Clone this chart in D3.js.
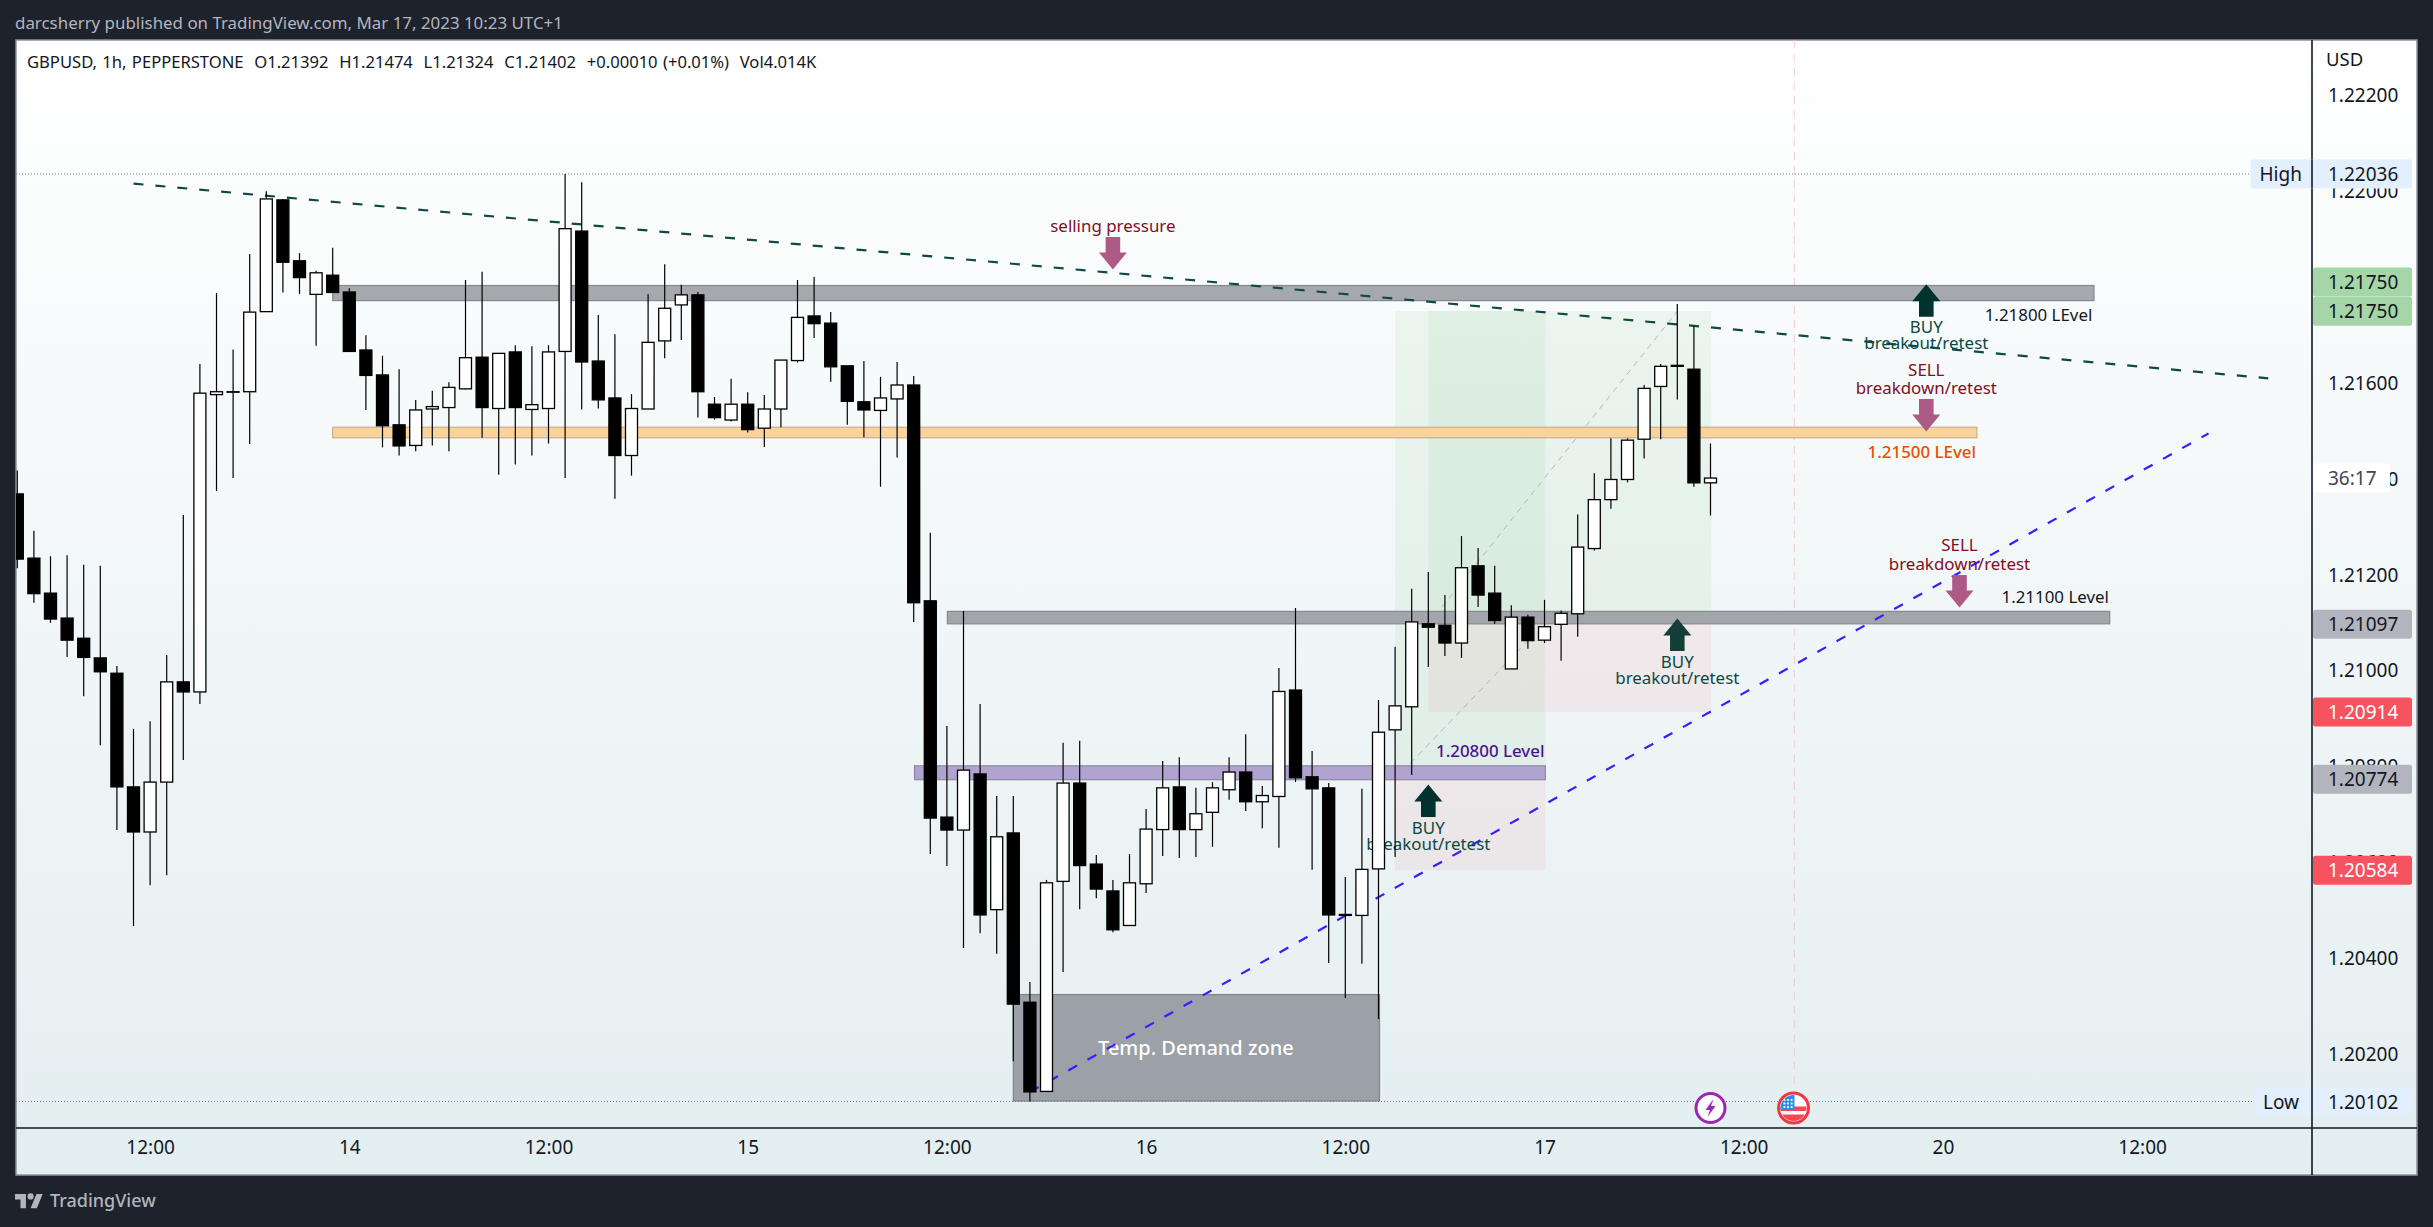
<!DOCTYPE html>
<html><head><meta charset="utf-8">
<script src="https://cdn.jsdelivr.net/npm/d3@7/dist/d3.min.js"></script>
<style>html,body{margin:0;padding:0;background:#1e222d;overflow:hidden}svg{display:block}text{font-family:"Noto Sans",sans-serif}</style>
</head><body><svg id="c" width="2433" height="1227"></svg>
<script>
const opens=[1.21369,1.21235,1.21162,1.21110,1.21068,1.21027,1.20995,1.20758,1.20664,1.20768,1.20977,1.20956,1.21576,1.21582,1.21582,1.21749,1.21982,1.21855,1.21785,1.21825,1.21790,1.21669,1.21617,1.21513,1.21470,1.21546,1.21549,1.21588,1.21654,1.21547,1.21665,1.21545,1.21547,1.21666,1.21917,1.21646,1.21569,1.21449,1.21546,1.21688,1.21763,1.21784,1.21556,1.21523,1.21556,1.21506,1.21546,1.21647,1.21740,1.21725,1.21636,1.21561,1.21543,1.21567,1.21596,1.21146,1.20695,1.20668,1.20785,1.20502,1.20662,1.20309,1.20123,1.20561,1.20766,1.20597,1.20541,1.20469,1.20556,1.20669,1.20758,1.20669,1.20705,1.20752,1.20789,1.20727,1.20738,1.20960,1.20779,1.20756,1.20492,1.20490,1.20587,1.20877,1.20925,1.21098,1.21095,1.21058,1.21219,1.21162,1.21004,1.21112,1.21064,1.21097,1.21119,1.21255,1.21357,1.21399,1.21483,1.21593,1.21637,1.21629,1.21392];
const highs=[1.21418,1.21292,1.21239,1.21241,1.21221,1.21219,1.21010,1.20879,1.20895,1.21033,1.21325,1.21640,1.21788,1.21670,1.21869,1.22000,1.21984,1.21871,1.21834,1.21882,1.21798,1.21700,1.21657,1.21629,1.21565,1.21584,1.21602,1.21815,1.21832,1.21662,1.21679,1.21677,1.21679,1.22036,1.22019,1.21742,1.21702,1.21577,1.21785,1.21848,1.21805,1.21790,1.21571,1.21609,1.21581,1.21575,1.21648,1.21815,1.21821,1.21748,1.21636,1.21646,1.21613,1.21644,1.21615,1.21288,1.20885,1.21125,1.20931,1.20739,1.20739,1.20351,1.20564,1.20850,1.20854,1.20616,1.20564,1.20618,1.20712,1.20812,1.20820,1.20756,1.20768,1.20820,1.20868,1.20760,1.21006,1.21131,1.20833,1.20766,1.20570,1.20754,1.20939,1.21050,1.21171,1.21206,1.21158,1.21281,1.21256,1.21219,1.21137,1.21117,1.21148,1.21126,1.21326,1.21412,1.21485,1.21485,1.21596,1.21640,1.21765,1.21719,1.21474];
const lows=[1.21214,1.21142,1.21100,1.21029,1.20947,1.20845,1.20668,1.20468,1.20553,1.20574,1.20814,1.20931,1.21375,1.21402,1.21473,1.21749,1.21789,1.21786,1.21678,1.21789,1.21666,1.21544,1.21466,1.21449,1.21458,1.21470,1.21458,1.21587,1.21486,1.21409,1.21430,1.21449,1.21474,1.21402,1.21545,1.21547,1.21359,1.21407,1.21546,1.21652,1.21690,1.21528,1.21524,1.21520,1.21497,1.21467,1.21508,1.21643,1.21694,1.21603,1.21513,1.21487,1.21384,1.21445,1.21102,1.20618,1.20593,1.20422,1.20453,1.20410,1.20186,1.20102,1.20123,1.20372,1.20503,1.20526,1.20455,1.20469,1.20537,1.20614,1.20610,1.20612,1.20633,1.20731,1.20708,1.20672,1.20631,1.20768,1.20585,1.20391,1.20318,1.20389,1.20274,1.20612,1.20783,1.21008,1.21031,1.21027,1.21133,1.21098,1.21004,1.21046,1.21058,1.21021,1.21071,1.21251,1.21338,1.21393,1.21443,1.21483,1.21566,1.21384,1.21324];
const closes=[1.21233,1.21161,1.21108,1.21064,1.21028,1.20998,1.20758,1.20664,1.20768,1.20977,1.20956,1.21579,1.21582,1.21582,1.21748,1.21984,1.21852,1.21820,1.21830,1.21789,1.21666,1.21616,1.21511,1.21469,1.21544,1.21551,1.21591,1.21653,1.21549,1.21662,1.21549,1.21555,1.21665,1.21922,1.21644,1.21565,1.21449,1.21547,1.21685,1.21756,1.21784,1.21582,1.21528,1.21556,1.21503,1.21546,1.21648,1.21737,1.21724,1.21634,1.21562,1.21544,1.21569,1.21596,1.21142,1.20693,1.20668,1.20793,1.20491,1.20654,1.20305,1.20122,1.20558,1.20766,1.20594,1.20545,1.20460,1.20558,1.20670,1.20756,1.20669,1.20702,1.20756,1.20789,1.20727,1.20740,1.20957,1.20777,1.20754,1.20491,1.20490,1.20586,1.20872,1.20927,1.21102,1.21091,1.21058,1.21215,1.21158,1.21105,1.21112,1.21063,1.21092,1.21120,1.21258,1.21357,1.21399,1.21481,1.21589,1.21635,1.21635,1.21392,1.21402];

const priceTicks=[1.222,1.22,1.218,1.216,1.214,1.212,1.21,1.208,1.206,1.204,1.202];
const timeTicks=[8,20,32,44,56,68,80,92,104,116,128];
const timeLabels=["12:00","14","12:00","15","12:00","16","12:00","17","12:00","20","12:00"];

// horizontal zones [from bar, to bar, upper price, lower price, fill, edge]
const zones=[
 [19,125.1,1.218035,1.21772,"#a5a8ad","#85888d"],
 [19,118.05,1.21508,1.21486,"#f9d29c","#c8b08c"],
 [56.03,126.05,1.21124,1.21098,"#a2a6ab","#85898e"],
 [54.05,92.05,1.20802,1.20773,"#b1a3cf","#8f87a9"],
 [60,82.06,1.20325,1.20103,"#9ba1a7","#7f8489"]
];
// position tools [from bar, to bar, target, entry, stop, line end bar, line end price]
const tools=[
 [83,92.05,1.2175,1.20774,1.20584,91,1.21063],
 [85,102.05,1.2175,1.21097,1.20914,100,1.2175]
];
// trend lines [bar0, price0, bar1, price1, colour, dash]
const trends=[
 [7,1.22016,135.6,1.2161,"#0c4a44","10 12"],
 [61,1.20122,132,1.21495,"#3a1cff","10 12"]
];
// arrows [bar, tip price, direction, colour]
const arrows=[
 [66,1.21837,"down","#ad5a87"],
 [115,1.21806,"up","#00332e"],
 [115,1.21499,"down","#ad5a87"],
 [117,1.21132,"down","#ad5a87"],
 [100,1.21109,"up","#143e38"],
 [85,1.20763,"up","#00332e"]
];
// notes [text, bar, price, anchor, colour, weight]
const notes=[
 ["selling pressure",66,1.21927,"middle","#80101f",400],
 ["BUY",115,1.21717,"middle","#0c4a44",400],
 ["breakout/retest",115,1.21684,"middle","#0c4a44",400],
 ["SELL",115,1.21627,"middle","#80101f",400],
 ["breakdown/retest",115,1.21590,"middle","#80101f",400],
 ["1.21800 LEvel",125,1.21742,"end","#131722",400],
 ["1.21500 LEvel",118,1.21457,"end","#e65100",500],
 ["SELL",117,1.212615,"middle","#80101f",400],
 ["breakdown/retest",117,1.21223,"middle","#80101f",400],
 ["1.21100 Level",126,1.21153,"end","#131722",400],
 ["BUY",100,1.21019,"middle","#0c4a44",400],
 ["breakout/retest",100,1.20985,"middle","#0c4a44",400],
 ["BUY",85,1.20673,"middle","#0c4a44",400],
 ["breakout/retest",85,1.20639,"middle","#0c4a44",400],
 ["1.20800 Level",92,1.20832,"end","#4a148c",500]
];
const priceLabels=[
 ["1.21750",1.21811,"#a5d6a7","#131722"],
 ["1.21750",1.2175,"#a5d6a7","#131722"],
 ["1.21097",1.21097,"#b2b5be","#131722"],
 ["1.20914",1.20914,"#f7525f","#ffffff"],
 ["1.20774",1.20774,"#b2b5be","#131722"],
 ["1.20584",1.20584,"#f7525f","#ffffff"]
];
const highLow=[["High",1.22036,"1.22036"],["Low",1.20102,"1.20102"]];
const lastPrice=1.21402;
const events=[102,107];

const L=16,R=2417,T=40,B=1175,AX=2312,AY=1128;
const x=d3.scaleLinear().domain([0,1]).range([17.3,33.9]);
const y=d3.scaleLinear().domain([1.20102,1.22036]).range([1101.5,174]);
const FS=19;
const svg=d3.select("#c");
const defs=svg.append("defs");
const g=defs.append("linearGradient").attr("id","bg").attr("x1",0).attr("x2",0).attr("y1",0).attr("y2",1);
g.append("stop").attr("offset",0).attr("stop-color","#ffffff");
g.append("stop").attr("offset",1).attr("stop-color","#e3eef0");
defs.append("clipPath").attr("id","plot").append("rect").attr("x",L).attr("y",T).attr("width",AX-L).attr("height",AY-T);
svg.append("rect").attr("x",L).attr("y",T).attr("width",R-L).attr("height",B-T).attr("fill","url(#bg)").attr("stroke","#8f939c").attr("stroke-width",1.5);

svg.append("text").attr("x",15).attr("y",29).attr("font-size",16.9).attr("fill","#b2b5be").text("darcsherry published on TradingView.com, Mar 17, 2023 10:23 UTC+1");
const plot=svg.append("g").attr("clip-path","url(#plot)");

plot.append("line").attr("x1",x(107.05)).attr("x2",x(107.05)).attr("y1",T).attr("y2",1092).attr("stroke","#f6c9ce").attr("stroke-width",1).attr("stroke-dasharray","8 6");
highLow.forEach(d=>{plot.append("line").attr("x1",L).attr("x2",d[0]=="High"?2251:2254).attr("y1",y(d[1])).attr("y2",y(d[1])).attr("stroke","#787b86").attr("stroke-width",1).attr("stroke-dasharray","1 2");});

tools.forEach(t=>{
 plot.append("rect").attr("x",x(t[0])).attr("width",x(t[1])-x(t[0])).attr("y",y(t[2])).attr("height",y(t[3])-y(t[2])).attr("fill","rgba(76,175,80,0.075)");
 plot.append("rect").attr("x",x(t[0])).attr("width",x(t[1])-x(t[0])).attr("y",y(t[3])).attr("height",y(t[4])-y(t[3])).attr("fill","rgba(242,54,69,0.065)");
 plot.append("line").attr("x1",x(t[0])).attr("y1",y(t[3])).attr("x2",x(t[5])).attr("y2",y(t[6])).attr("stroke","#b4b8bd").attr("stroke-width",1).attr("stroke-dasharray","6 5");
});
zones.forEach(z=>{plot.append("rect").attr("x",x(z[0])).attr("width",x(z[1])-x(z[0])).attr("y",y(z[2])).attr("height",y(z[3])-y(z[2])).attr("fill",z[4]).attr("stroke",z[5]).attr("stroke-width",1.2);});
plot.append("text").attr("x",x(71)).attr("y",y(1.20214)+7).attr("text-anchor","middle").attr("font-size",20).attr("font-weight",500).attr("fill","#fff").text("Temp. Demand zone");
trends.forEach(t=>{plot.append("line").attr("x1",x(t[0])).attr("y1",y(t[1])).attr("x2",x(t[2])).attr("y2",y(t[3])).attr("stroke",t[4]).attr("stroke-width",2.2).attr("stroke-dasharray",t[5]);});
const arrowPath=(up)=>{const s=up?1:-1;return `M0,0L14,${s*17}L7.3,${s*17}L7.3,${s*32.5}L-7.3,${s*32.5}L-7.3,${s*17}L-14,${s*17}Z`;};
arrows.forEach(a=>{plot.append("path").attr("transform",`translate(${x(a[0])},${y(a[1])})`).attr("d",arrowPath(a[2]=="up")).attr("fill",a[3]);});
notes.forEach(n=>{plot.append("text").attr("x",x(n[1])).attr("y",y(n[2])+6).attr("text-anchor",n[3]).attr("font-size",16.9).attr("font-weight",n[5]).attr("fill",n[4]).text(n[0]);});

const bars=d3.range(opens.length).map(i=>({i,o:opens[i],h:highs[i],l:lows[i],c:closes[i]}));
const cg=plot.append("g");
cg.selectAll("line").data(bars).join("line").attr("x1",d=>x(d.i)).attr("x2",d=>x(d.i)).attr("y1",d=>y(d.h)).attr("y2",d=>y(d.l)).attr("stroke","#000").attr("stroke-width",1.2);
cg.selectAll("rect").data(bars).join("rect").attr("x",d=>x(d.i)-6).attr("width",12).attr("y",d=>y(Math.max(d.o,d.c))).attr("height",d=>Math.max(0.5,Math.abs(y(d.o)-y(d.c)))).attr("fill",d=>d.c>=d.o?"#fff":"#000").attr("stroke","#000").attr("stroke-width",1.3);

svg.append("text").attr("x",27).attr("y",68).attr("font-size",16.6).attr("fill","#131722").attr("word-spacing",1).style("white-space","pre").text("GBPUSD, 1h, PEPPERSTONE  O1.21392  H1.21474  L1.21324  C1.21402  +0.00010 (+0.01%)  Vol4.014K");

const yAxis=d3.axisRight(y).tickValues(priceTicks).tickFormat(d3.format(".5f")).tickSize(0).tickPadding(16);
const ya=svg.append("g").attr("transform",`translate(${AX},0)`).call(yAxis);
ya.select(".domain").remove();
ya.selectAll("text").attr("font-size",FS).attr("fill","#131722").style("font-family",'"Noto Sans",sans-serif');
const xAxis=d3.axisBottom(x).tickValues(timeTicks).tickFormat((d,i)=>timeLabels[i]).tickSize(0).tickPadding(13);
const xa=svg.append("g").attr("transform",`translate(0,${AY})`).call(xAxis);
xa.select(".domain").remove();
xa.selectAll("text").attr("font-size",FS).attr("fill","#131722").style("font-family",'"Noto Sans",sans-serif');
svg.append("line").attr("x1",L).attr("x2",R).attr("y1",AY).attr("y2",AY).attr("stroke","#131722").attr("stroke-width",1.6);
svg.append("line").attr("x1",AX).attr("x2",AX).attr("y1",T).attr("y2",B).attr("stroke","#131722").attr("stroke-width",1.6);
svg.append("text").attr("x",2326).attr("y",66).attr("font-size",FS-0.5).attr("fill","#131722").text("USD");

const box=(p,fill,txt,col)=>{
 const cy=y(p);
 svg.append("rect").attr("x",AX+1).attr("y",cy-14.5).attr("width",99).attr("height",29).attr("rx",2.5).attr("fill",fill);
 svg.append("text").attr("x",2328).attr("y",cy+7).attr("font-size",FS).attr("fill",col).text(txt);
};
highLow.forEach(d=>{
 const cy=y(d[1]), lx=d[0]=="High"?2250.5:2254;
 svg.append("rect").attr("x",lx).attr("y",cy-14.5).attr("width",2412-lx).attr("height",29).attr("rx",2.5).attr("fill","#e3effd");
 svg.append("line").attr("x1",AX).attr("x2",AX).attr("y1",cy-14.5).attr("y2",cy+14.5).attr("stroke","#131722").attr("stroke-width",1.6);
 svg.append("text").attr("x",lx+9).attr("y",cy+7).attr("font-size",FS).attr("fill","#131722").text(d[0]);
 svg.append("text").attr("x",2328).attr("y",cy+7).attr("font-size",FS).attr("fill","#131722").text(d[2]);
});
priceLabels.forEach(d=>box(d[1],d[2],d[0],d[3]));
// countdown box sits on the 1.21400 tick and leaves its last digit showing
svg.append("rect").attr("x",AX+1).attr("y",y(lastPrice)-14.5).attr("width",77).attr("height",29).attr("rx",2).attr("fill","#fff");
svg.append("text").attr("x",2328).attr("y",y(lastPrice)+7).attr("font-size",FS).attr("fill","#434651").text("36:17");

const cyIcon=1108;
const ev1=svg.append("g").attr("transform",`translate(${x(events[0])},${cyIcon})`);
ev1.append("circle").attr("r",14.5).attr("fill","#fff").attr("stroke","#9c27b0").attr("stroke-width",3);
ev1.append("path").attr("d","M3,-9L-5,2L-0.5,2L-3,9L5,-2L0.5,-2Z").attr("fill","#9c27b0");
defs.append("clipPath").attr("id","fl").append("circle").attr("r",13);
const ev2=svg.append("g").attr("transform",`translate(${x(events[1])},${cyIcon})`);
ev2.append("circle").attr("r",15).attr("fill","#fff").attr("stroke","#f23645").attr("stroke-width",3);
const fl=ev2.append("g").attr("clip-path","url(#fl)");
fl.append("rect").attr("x",-14).attr("y",-1.5).attr("width",28).attr("height",4.5).attr("fill","#f4484f");
fl.append("rect").attr("x",-14).attr("y",6.5).attr("width",28).attr("height",8).attr("fill","#f4484f");
fl.append("rect").attr("x",-14).attr("y",-14).attr("width",15).attr("height",16).attr("fill","#2f8fe8");
d3.range(3).forEach(r=>d3.range(3).forEach(c=>fl.append("rect").attr("x",-10+c*3.6).attr("y",-9+r*3.6).attr("width",1.8).attr("height",1.8).attr("fill","#fff")));

const logo=svg.append("g").attr("transform","translate(15,1191) scale(0.78)").attr("fill","#b2b5be");
logo.append("path").attr("d","M14 22H7V11H0V4h14v18zM28 22h-8l7.5-18h8L28 22z");
logo.append("circle").attr("cx",20).attr("cy",7).attr("r",4);
svg.append("text").attr("x",50).attr("y",1207).attr("font-size",18).attr("font-weight",500).attr("fill","#b2b5be").text("TradingView");
</script></body></html>
